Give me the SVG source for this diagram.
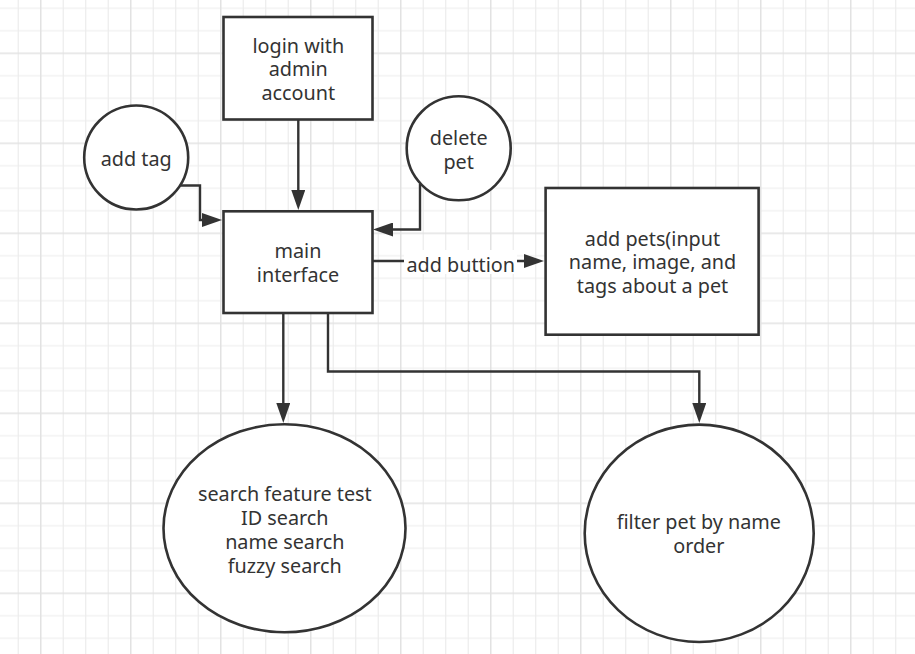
<svg xmlns="http://www.w3.org/2000/svg" width="915" height="654" viewBox="0 0 915 654">
<defs>
<pattern id="grid" x="40" y="52.5" width="90" height="90" patternUnits="userSpaceOnUse">
<path d="M23.25 0V90M45.75 0V90M68.25 0V90M0 23.25H90M0 45.75H90M0 68.25H90" stroke="#ececec" stroke-width="1.2" fill="none"/>
<path d="M0.75 0V90M0 0.75H90" stroke="#e2e2e2" stroke-width="1.5" fill="none"/>
</pattern>
<marker id="arr" markerUnits="userSpaceOnUse" markerWidth="22" markerHeight="14" refX="2" refY="7" orient="auto">
<path d="M0,0 L20,7 L0,14 z" fill="#333"/>
</marker>
<style>
.shape{fill:#fff;stroke:#333;stroke-width:2.6}
.edge{fill:none;stroke:#333;stroke-width:2.4}
.t{font-family:"Noto Sans","Open Sans","DejaVu Sans",sans-serif;font-size:19.8px;fill:#333;text-anchor:middle}
</style>
</defs>
<rect width="915" height="654" fill="#fff"/>
<rect width="915" height="654" fill="url(#grid)"/>

<g id="connectors">
<path class="edge" d="M298.3 120 V192" marker-end="url(#arr)"/>
<path class="edge" d="M180.5 185.5 H200 V220 H204" marker-end="url(#arr)"/>
<path class="edge" d="M420 184 V229.5 H391" marker-end="url(#arr)"/>
<path class="edge" d="M373 261 H526" marker-end="url(#arr)"/>
<path class="edge" d="M283.3 314 V405" marker-end="url(#arr)"/>
<path class="edge" d="M328 312 V371.5 H699.3 V405" marker-end="url(#arr)"/>
<g id="label-add-buttion">
<rect x="404" y="250" width="113" height="24" fill="#fff"/>
<text class="t" x="460.8" y="271.5">add buttion</text>
</g>
</g>

<g id="login">
<rect class="shape" x="223.5" y="17" width="149" height="102.5"/>
<text class="t" x="298.3" y="52.7">login with</text>
<text class="t" x="298.3" y="76.2">admin</text>
<text class="t" x="298.3" y="99.8">account</text>
</g>

<g id="add-tag">
<circle class="shape" cx="136.2" cy="157.5" r="52"/>
<text class="t" x="136.2" y="165.6">add tag</text>
</g>

<g id="delete-pet">
<circle class="shape" cx="458.7" cy="148.3" r="52"/>
<text class="t" x="458.7" y="145">delete</text>
<text class="t" x="458.7" y="168.6">pet</text>
</g>

<g id="main-interface">
<rect class="shape" x="223.5" y="211.3" width="149" height="101.7"/>
<text class="t" x="298" y="258.3">main</text>
<text class="t" x="298" y="281.7">interface</text>
</g>

<g id="add-pets">
<rect class="shape" x="545.6" y="188" width="213" height="146.7"/>
<text class="t" x="652.5" y="245.7">add pets(input</text>
<text class="t" x="652.5" y="269.3">name, image, and</text>
<text class="t" x="652.5" y="292.7">tags about a pet</text>
</g>

<g id="search">
<ellipse class="shape" cx="284.5" cy="528.3" rx="121" ry="104"/>
<text class="t" x="284.8" y="500.7">search feature test</text>
<text class="t" x="284.8" y="524.7">ID search</text>
<text class="t" x="284.8" y="548.7">name search</text>
<text class="t" x="284.8" y="572.7">fuzzy search</text>
</g>

<g id="filter">
<ellipse class="shape" cx="699.2" cy="533.3" rx="114.5" ry="108.7"/>
<text class="t" x="698.8" y="529.3">filter pet by name</text>
<text class="t" x="698.8" y="553.3">order</text>
</g>
</svg>
